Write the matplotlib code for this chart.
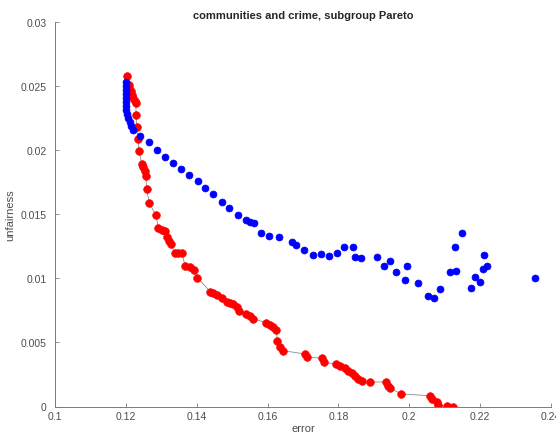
import matplotlib
matplotlib.use('Agg')
import matplotlib.pyplot as plt

plt.rcParams['font.family'] = ['Liberation Sans', 'DejaVu Sans']

# subgroup pareto frontier, red (connected) series
red_err = [0.12041, 0.12075, 0.12097, 0.12137, 0.12165, 0.12202, 0.12250, 0.12286,
           0.12286, 0.12306, 0.12334, 0.12379, 0.12447, 0.12492, 0.12540, 0.12560,
           0.12588, 0.12662, 0.12851, 0.12916, 0.13012, 0.13091, 0.13153, 0.13204,
           0.13288, 0.13373, 0.13472, 0.13585, 0.13669, 0.13810, 0.13937, 0.14022,
           0.14375, 0.14460, 0.14564, 0.14705, 0.14846, 0.14939, 0.15033, 0.15128,
           0.15202, 0.15391, 0.15504, 0.15597, 0.15955, 0.16068, 0.16167, 0.16238,
           0.16280, 0.16351, 0.16449, 0.17056, 0.17104, 0.17536, 0.17593, 0.17931,
           0.18044, 0.18185, 0.18278, 0.18374, 0.18468, 0.18561, 0.18657, 0.18891,
           0.19343, 0.19407, 0.19455, 0.19766, 0.20584, 0.20632, 0.20774, 0.20819,
           0.21056, 0.21225]
red_unf = [0.02576, 0.02508, 0.02485, 0.02462, 0.02434, 0.02407, 0.02381, 0.02368,
           0.02278, 0.02181, 0.02087, 0.01993, 0.01892, 0.01865, 0.01837, 0.01801,
           0.01697, 0.01584, 0.01494, 0.01389, 0.01381, 0.01372, 0.01322, 0.01291,
           0.01268, 0.01194, 0.01198, 0.01195, 0.01100, 0.01086, 0.01065, 0.01006,
           0.00897, 0.00882, 0.00868, 0.00843, 0.00819, 0.00808, 0.00796, 0.00774,
           0.00747, 0.00722, 0.00706, 0.00683, 0.00655, 0.00636, 0.00624, 0.00597,
           0.00513, 0.00468, 0.00435, 0.00410, 0.00384, 0.00378, 0.00345, 0.00332,
           0.00314, 0.00300, 0.00279, 0.00259, 0.00236, 0.00215, 0.00197, 0.00189,
           0.00193, 0.00162, 0.00144, 0.00098, 0.00084, 0.00059, 0.00037, 0.00012,
           0.00002, 0.0]

# blue series (points only)
blue_err = [0.12018, 0.12004, 0.11990, 0.11990, 0.11990, 0.12004, 0.12004, 0.12018,
            0.12032, 0.12060, 0.12103, 0.12145, 0.12202, 0.12413, 0.12662, 0.12879,
            0.13105, 0.13331, 0.13556, 0.13782, 0.14036, 0.14234, 0.14460, 0.14705,
            0.14920, 0.15157, 0.15383, 0.15504, 0.15617, 0.15814, 0.16049, 0.16322,
            0.16681, 0.16802, 0.17028, 0.17274, 0.17499, 0.17734, 0.17951, 0.18166,
            0.18403, 0.18468, 0.18628, 0.19089, 0.19286, 0.19455, 0.19616, 0.19865,
            0.19944, 0.20246, 0.20536, 0.20711, 0.20867, 0.21149, 0.21318, 0.21290,
            0.21488, 0.21728, 0.21855, 0.21982, 0.22089, 0.22185, 0.22109, 0.23548]
blue_unf = [0.02532, 0.02501, 0.02469, 0.02438, 0.02407, 0.02376, 0.02345, 0.02313,
            0.02282, 0.02251, 0.02220, 0.02189, 0.02161, 0.02107, 0.02066, 0.02005,
            0.01949, 0.01900, 0.01853, 0.01806, 0.01759, 0.01705, 0.01658, 0.01593,
            0.01549, 0.01496, 0.01457, 0.01442, 0.01429, 0.01351, 0.01333, 0.01325,
            0.01286, 0.01262, 0.01223, 0.01184, 0.01190, 0.01172, 0.01195, 0.01242,
            0.01242, 0.01164, 0.01159, 0.01169, 0.01100, 0.01135, 0.01053, 0.00987,
            0.01094, 0.00967, 0.00860, 0.00847, 0.00913, 0.01052, 0.01061, 0.01241,
            0.01351, 0.00925, 0.01008, 0.00974, 0.01073, 0.01099, 0.01182, 0.01003]

xticks = [0.1, 0.12, 0.14, 0.16, 0.18, 0.2, 0.22, 0.24]
xticklabels = ['0.1', '0.12', '0.14', '0.16', '0.18', '0.2', '0.22', '0.24']
yticks = [0, 0.005, 0.01, 0.015, 0.02, 0.025, 0.03]
yticklabels = ['0', '0.005', '0.01', '0.015', '0.02', '0.025', '0.03']

fig = plt.figure(figsize=(5.56, 4.39), dpi=100)
ax = fig.add_axes([55 / 556, 31.5 / 439, 496 / 556, 384.5 / 439])

ax.plot(red_err, red_unf, '-', color='#8c8c8c', lw=0.6, zorder=1)
ax.plot(red_err, red_unf, 'o', color='#ff0000', ms=5.5, mec='#ff0000', mew=0.5, zorder=2)
ax.plot(blue_err, blue_unf, 'o', color='#0000ff', ms=5, mec='#0000ff', mew=0.5, zorder=3)

ax.set_xlim(0.1, 0.24)
ax.set_ylim(0, 0.03)
ax.set_xticks(xticks)
ax.set_xticklabels(xticklabels)
ax.set_yticks(yticks)
ax.set_yticklabels(yticklabels)

for s in ['top', 'right']:
    ax.spines[s].set_visible(False)
for s in ['left', 'bottom']:
    ax.spines[s].set_color('#7a7a7a')
    ax.spines[s].set_linewidth(0.7)
ax.tick_params(direction='in', length=3, width=0.6, color='#7a7a7a',
               labelcolor='#4d4d4d', labelsize=7.5)
ax.tick_params(axis='x', pad=3)
ax.tick_params(axis='y', pad=6)

ax.set_xlabel('error', fontsize=8, color='#4d4d4d', labelpad=2)
ax.set_ylabel('unfairness', fontsize=8, color='#4d4d4d', labelpad=4)
ax.set_title('communities and crime, subgroup Pareto', fontsize=8,
             fontweight='bold', color='#262626', pad=3)

fig.savefig('out.png', dpi=100)
